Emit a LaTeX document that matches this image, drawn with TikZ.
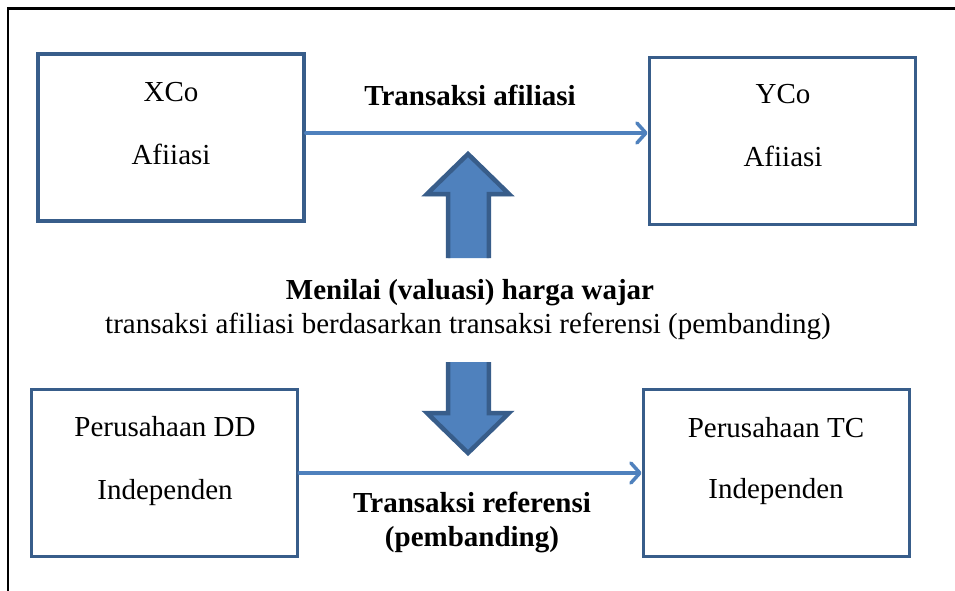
\documentclass[tikz,border=0pt]{standalone}
\usepackage{fontspec}
\setmainfont{Liberation Serif}
\usetikzlibrary{arrows.meta}
\definecolor{boxline}{HTML}{385D8A}
\definecolor{accent}{HTML}{4F81BD}
\begin{document}
\begin{tikzpicture}[x=1pt,y=-1pt,
  entity/.style={draw=boxline,line width=3.7pt,rectangle,inner sep=0pt,
    minimum width=266pt,minimum height=167pt},
  label/.style={anchor=base,inner sep=0pt,font=\fontsize{29}{34}\selectfont},
  strong/.style={label,font=\fontsize{29}{34}\selectfont\bfseries},
  flow/.style={draw=accent,line width=3.5pt,line cap=round,line join=round,
    -{Straight Barb[length=9pt,width=20pt,line cap=round,line join=round]}},
  blockfill/.style={fill=accent},
  blockedge/.style={draw=boxline,line width=4.5pt,line join=miter}]
  \useasboundingbox (0,0) rectangle (955,591);
  \fill[white] (0,0) rectangle (955,591);
  % page frame (left and top edges)
  \draw[black,line width=2.7pt] (8,591) -- (8,8.7) -- (955,8.7);

  % entities
  \node[entity] (xco) at (171,137.5) {};
  \node[entity] (yco) at (782.5,141) {};
  \node[entity] (dd)  at (164.5,473) {};
  \node[entity] (tc)  at (776.5,473) {};

  \node[label] (xcoa) at (171,102) {XCo};
  \node[label] (xcob) at (171,164) {Afiiasi};
  \node[label] (ycoa) at (783,103) {YCo};
  \node[label] (ycob) at (783,166) {Afiiasi};
  \node[label] (dda)  at (165,436) {Perusahaan DD};
  \node[label] (ddb)  at (165,499) {Independen};
  \node[label] (tca)  at (776,437) {Perusahaan TC};
  \node[label] (tcb)  at (776,498) {Independen};

  % transactions
  \draw[flow] ([yshift=4.5pt]xco.east) coordinate (t1) -- (t1 -| yco.west);
  \draw[flow] (dd.east) -- (tc.west);

  \node[strong] (aff) at (470,106) {Transaksi afiliasi};
  \node[strong] (ref1) at (472,512) {Transaksi referensi};
  \node[strong] (ref2) at (472,546) {(pembanding)};

  % valuation in the middle
  \node[strong] (val) at (470,299) {Menilai (valuasi) harga wajar};
  \node[label] (valb) at (468,333) {transaksi afiliasi berdasarkan transaksi referensi (pembanding)};

  % block arrows: fill first, then the outline without the open base
  \fill[blockfill] (448,258) -- (448,196) -- (425,196) -- (468,153) -- (511,196) -- (489,196) -- (489,258) -- cycle;
  \draw[blockedge] (448.2,258) -- (448.2,194) -- (427,194) -- (468,154) -- (509,194) -- (488.8,194) -- (488.8,258);
  \fill[blockfill] (448,362) -- (448,411) -- (425,411) -- (468,454) -- (511,411) -- (489,411) -- (489,362) -- cycle;
  \draw[blockedge] (448.2,362) -- (448.2,413) -- (427,413) -- (468,453) -- (509,413) -- (488.8,413) -- (488.8,362);
\end{tikzpicture}
\end{document}
